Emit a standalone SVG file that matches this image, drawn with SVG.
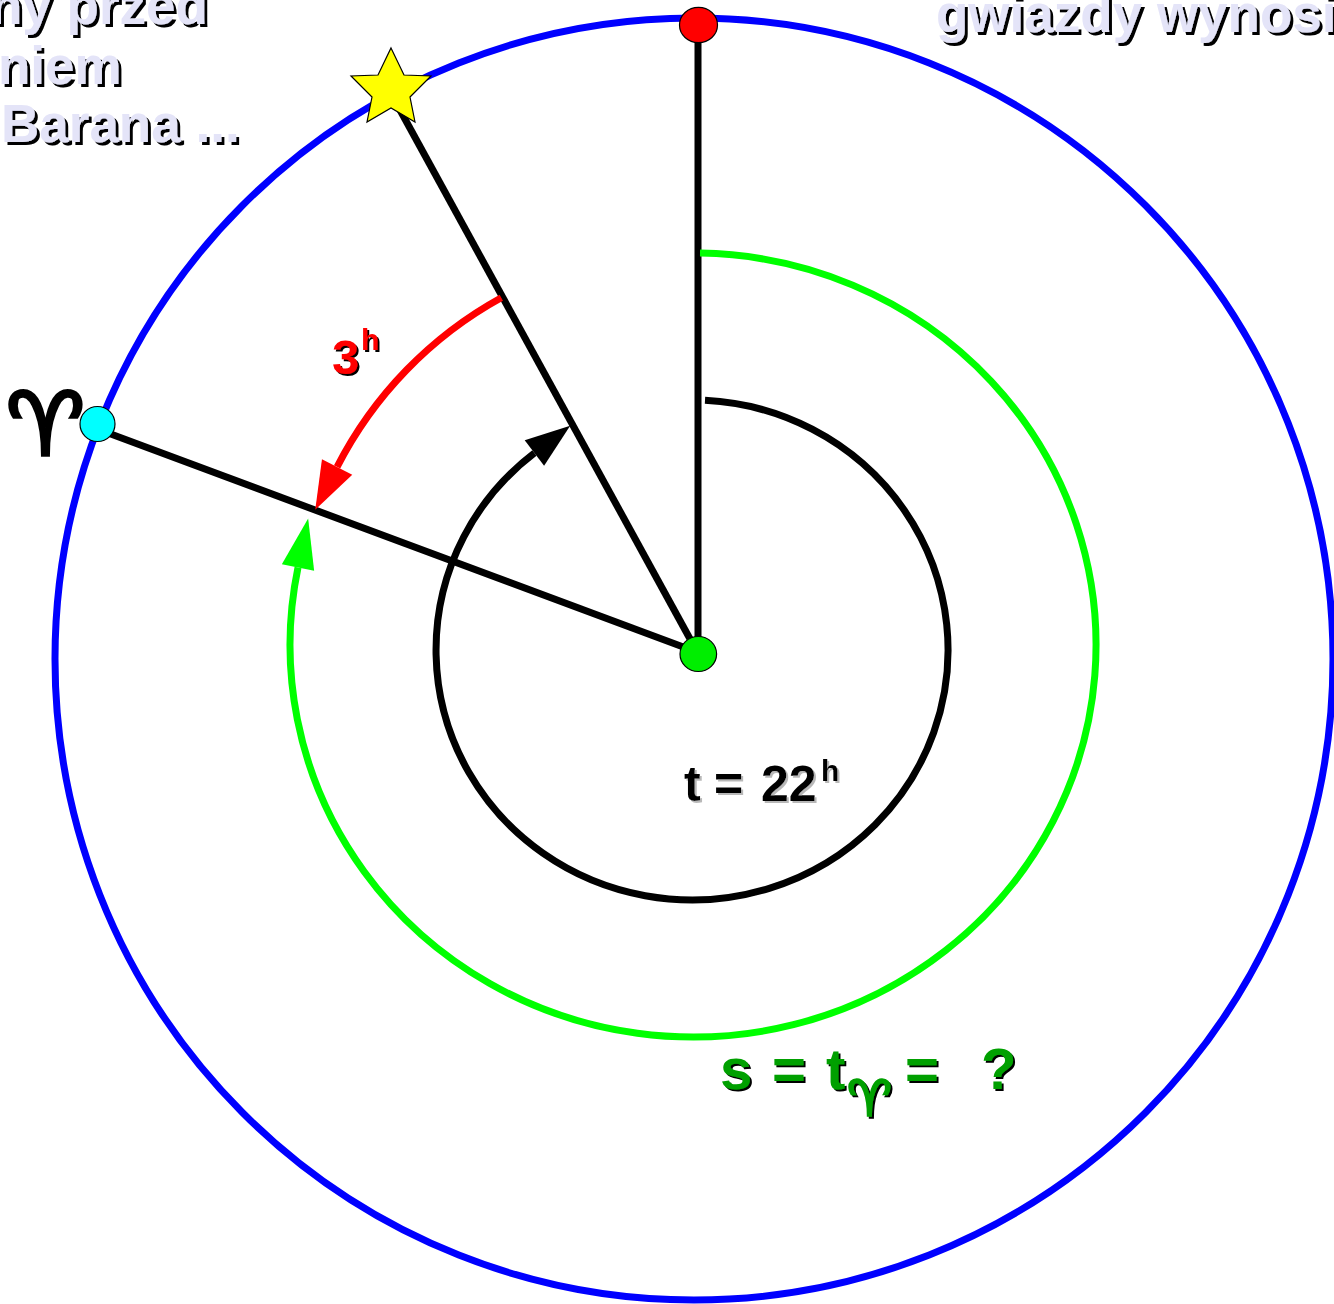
<svg xmlns="http://www.w3.org/2000/svg" width="1334" height="1304" viewBox="0 0 1334 1304">
<defs>
<style>
.ln{fill:none;stroke:#000;stroke-width:7}
.arc{fill:none;stroke-width:7}
.dot{stroke:#000;stroke-width:1.2}
.t{font-family:"Liberation Sans",Arial,sans-serif;font-weight:bold}
.sym{font-family:"DejaVu Sans",sans-serif}
.lav{fill:#e4e4f8;font-size:53px}
</style>
<filter id="shB" x="-10%" y="-20%" width="130%" height="160%"><feDropShadow dx="3" dy="3" stdDeviation="0" flood-color="#000" flood-opacity="1"/></filter>
<filter id="shB2" x="-10%" y="-20%" width="130%" height="160%"><feDropShadow dx="2" dy="2" stdDeviation="0" flood-color="#000" flood-opacity="1"/></filter>
<filter id="shG" x="-10%" y="-20%" width="130%" height="160%"><feDropShadow dx="2" dy="2" stdDeviation="0.6" flood-color="#b8b8b8" flood-opacity="1"/></filter>
<marker id="aK" markerUnits="userSpaceOnUse" orient="auto" refX="0" refY="0" markerWidth="60" markerHeight="40" overflow="visible"><path d="M0,-16 L45,0 L0,16 z" fill="#000"/></marker>
<marker id="aG" markerUnits="userSpaceOnUse" orient="auto" refX="0" refY="0" markerWidth="60" markerHeight="40" overflow="visible"><path d="M0,-16.5 L50,0 L0,16.5 z" fill="#00ff00"/></marker>
<marker id="aR" markerUnits="userSpaceOnUse" orient="auto" refX="0" refY="0" markerWidth="60" markerHeight="40" overflow="visible"><path d="M0,-17 L48,0 L0,17 z" fill="#ff0000"/></marker>
</defs>
<rect width="1334" height="1304" fill="#fff"/>

<g id="sphere">
<ellipse cx="694" cy="659" rx="639" ry="641" fill="none" stroke="#0000ff" stroke-width="7"/>
</g>

<g id="connectors">
<line class="ln" x1="698" y1="25" x2="698" y2="654"/>
<line class="ln" x1="400" y1="110" x2="695" y2="648"/>
<line class="ln" x1="100" y1="430" x2="694" y2="651"/>
<path class="arc" stroke="#000" d="M705,400.3 A256,250 0 1,1 534.4,453.0" marker-end="url(#aK)"/>
<path class="arc" stroke="#00ff00" d="M700,253.1 A403,392 0 1,1 298,567.5" marker-end="url(#aG)"/>
<path class="arc" stroke="#ff0000" d="M501.3,297.7 A402,402 0 0,0 337.1,466.9" marker-end="url(#aR)"/>
</g>

<g id="zenith">
<ellipse class="dot" cx="698.5" cy="25" rx="19" ry="17.7" fill="#ff0000"/>
</g>
<g id="star">
<polygon class="dot" fill="#ffff00" points="391,48 404,75 431,76 410,97 415,122 391,108 367,122 372,97 351,76 378,75"/>
</g>
<g id="vernal-point">
<circle class="dot" cx="97.5" cy="424" r="17.5" fill="#00ffff"/>
<text class="sym" x="6" y="455" font-size="88" fill="#000" stroke="#000" stroke-width="3.5">♈</text>
</g>
<g id="center">
<ellipse class="dot" cx="698.3" cy="654" rx="18.3" ry="17.5" fill="#00ee00"/>
</g>

<g id="label-3h" class="t" fill="#ff0000" filter="url(#shB2)">
<text x="332" y="374" font-size="49">3</text>
<text x="361" y="350" font-size="30">h</text>
</g>
<g id="label-t" class="t" fill="#000" filter="url(#shG)">
<text y="801" font-size="50"><tspan x="684">t</tspan><tspan x="714">=</tspan><tspan x="761">22</tspan></text>
<text x="821" y="781" font-size="30">h</text>
</g>
<g id="label-s" class="t" fill="#00a000" filter="url(#shB2)">
<text y="1089" font-size="58"><tspan x="720">s</tspan><tspan x="772">=</tspan><tspan x="826">t</tspan><tspan x="905">=</tspan><tspan x="981">?</tspan></text>
<text class="sym" x="847" y="1116" font-size="50" stroke="#00a000" stroke-width="2">♈</text>
</g>
<g id="text-left" class="t lav" filter="url(#shB)">
<text x="-10" y="24">ny przed</text>
<text x="-2" y="84">niem</text>
<text x="1" y="142">Barana ...</text>
</g>
<g id="text-right" class="t lav" filter="url(#shB)">
<text x="936" y="32">gwiazdy wynosi</text>
</g>
</svg>
